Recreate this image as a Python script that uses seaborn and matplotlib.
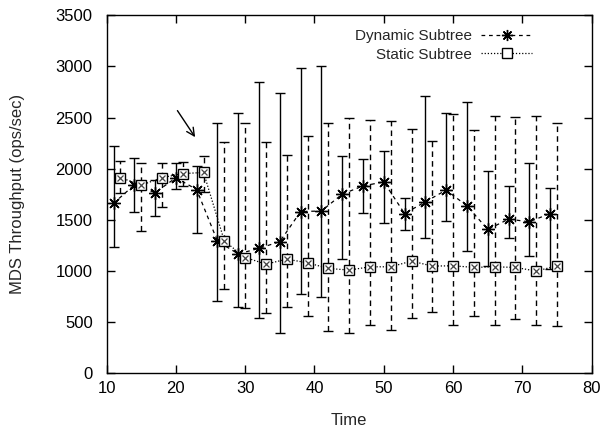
import numpy as np
import seaborn as sns
import matplotlib.pyplot as plt
from matplotlib.lines import Line2D

sns.set_style("ticks")
plt.rcParams['font.family'] = ['Liberation Sans', 'DejaVu Sans']

# dynamic subtree partitioning
dyn_t = [11, 14, 17, 20, 23, 26, 29, 32, 35, 38, 41, 44, 47, 50, 53, 56, 59, 62, 65, 68, 71, 74]
dyn_y = [1660, 1840, 1765, 1910, 1795, 1290, 1165, 1220, 1285, 1580, 1585, 1750, 1830, 1870,
         1560, 1675, 1790, 1635, 1405, 1505, 1480, 1560]
dyn_lo = [1230, 1577, 1535, 1805, 1366, 704, 648, 535, 394, 769, 740, 1114, 1561, 1469,
          1398, 1323, 1483, 1196, 1049, 1323, 1144, 1014]
dyn_hi = [2222, 2108, 1886, 2059, 2026, 2444, 2545, 2851, 2743, 2981, 3004, 2121, 2098, 2173,
          1717, 2708, 2545, 2656, 1977, 1828, 2059, 1815]

# static subtree partitioning
stat_t = [12, 15, 18, 21, 24, 27, 30, 33, 36, 39, 42, 45, 48, 51, 54, 57, 60, 63, 66, 69, 72, 75]
stat_y = [1912, 1838, 1912, 1951, 1962, 1290, 1130, 1065, 1114, 1078, 1023, 1007, 1039, 1039,
          1095, 1046, 1049, 1033, 1039, 1033, 997, 1049]
stat_lo = [1766, 1388, 1620, 1828, 1770, 821, 638, 590, 645, 560, 411, 394, 469, 420,
           541, 599, 469, 557, 469, 528, 469, 459]
stat_hi = [2072, 2050, 2050, 2066, 2124, 2261, 2447, 2261, 2137, 2323, 2447, 2496, 2473, 2466,
           2392, 2268, 2538, 2375, 2512, 2505, 2518, 2447]

fig = plt.figure(figsize=(6.09, 4.30), dpi=100)
ax = fig.add_axes([0.175, 0.1326, 0.7966, 0.8318])

dyn_err = [np.array(dyn_y) - np.array(dyn_lo), np.array(dyn_hi) - np.array(dyn_y)]
stat_err = [np.array(stat_y) - np.array(stat_lo), np.array(stat_hi) - np.array(stat_y)]

# error bars
e1 = ax.errorbar(dyn_t, dyn_y, yerr=dyn_err, fmt='none', ecolor='black',
                 elinewidth=1.0, capsize=3.5, capthick=1.0)
e2 = ax.errorbar(stat_t, stat_y, yerr=stat_err, fmt='none', ecolor='black',
                 elinewidth=1.0, capsize=3.5, capthick=1.0)
e2[2][0].set_linestyle((0, (4, 3)))

# connecting lines with markers
sns.lineplot(x=dyn_t, y=dyn_y, ax=ax, color='black', linewidth=0.9,
             linestyle=(0, (3, 3)), marker=(8, 2, 0), markersize=9,
             markeredgewidth=1.0, markeredgecolor='black')
sns.lineplot(x=stat_t, y=stat_y, ax=ax, color='black', linewidth=0.9,
             linestyle=(0, (1, 1.5)), marker='s', markersize=7.5,
             markerfacecolor='white', markeredgecolor='black', markeredgewidth=1.0)
ax.plot(stat_t, stat_y, linestyle='none', marker='x', markersize=5,
        color='#444444', markeredgewidth=0.9)

ax.annotate('', xy=(23, 2285), xytext=(20, 2590),
            arrowprops=dict(arrowstyle='->', color='black', lw=1.0,
                            mutation_scale=14))

ax.set_xlim(10, 80)
ax.set_ylim(0, 3500)
ax.set_xticks(range(10, 81, 10))
ax.set_yticks(range(0, 3501, 500))
ax.tick_params(direction='in', top=True, right=True, labelsize=12, length=6,
               width=1.0, colors='black')
ax.tick_params(axis='y', pad=10)
ax.tick_params(axis='x', pad=6)
for s in ax.spines.values():
    s.set_visible(True)
    s.set_linewidth(1.0)
    s.set_color('black')
ax.set_xlabel('Time', fontsize=12, labelpad=12)
ax.set_ylabel('MDS Throughput (ops/sec)', fontsize=12, labelpad=22)

handles = [
    Line2D([], [], color='black', linewidth=0.9, linestyle=(0, (3, 3)),
           marker=(8, 2, 0), markersize=8),
    Line2D([], [], color='black', linewidth=0.9, linestyle=(0, (1, 1.5)),
           marker='s', markersize=6.5, markerfacecolor='white'),
]
ax.legend(handles, ['Dynamic Subtree', 'Static Subtree'], loc='upper right',
          frameon=False, markerfirst=False, fontsize=11, handlelength=3.3,
          handletextpad=0.6, labelspacing=0.3, borderaxespad=0.5,
          bbox_to_anchor=(0.905, 1.0))

fig.savefig('out.png', dpi=100)
